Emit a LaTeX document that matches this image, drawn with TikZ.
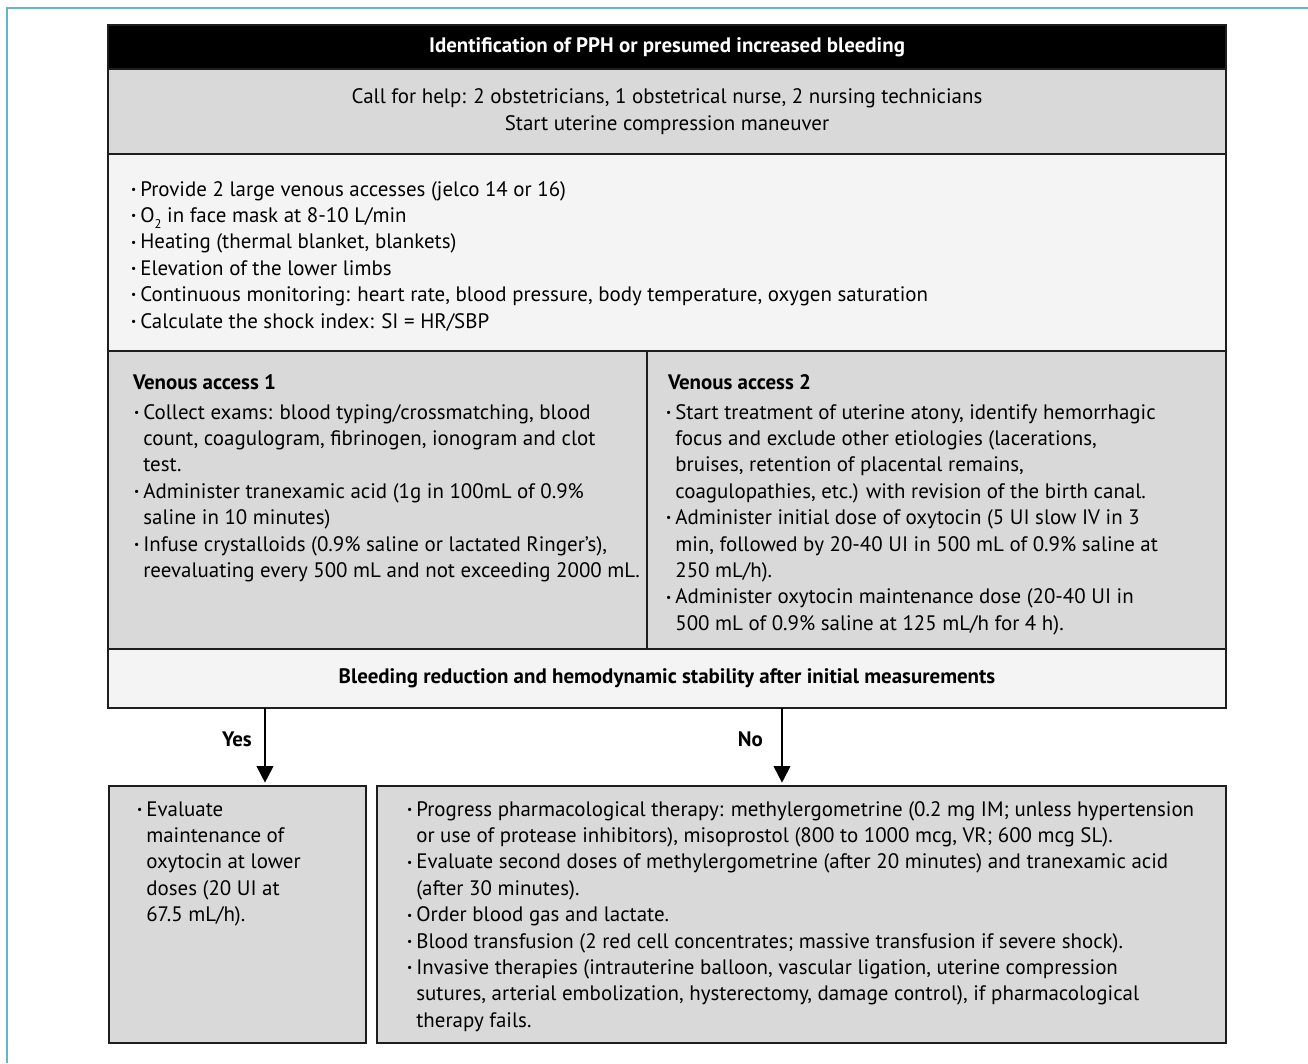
\documentclass[tikz,border=0pt]{standalone}
\usepackage{fontspec}
\setmainfont{PT Sans}
\usetikzlibrary{arrows.meta,fit}
\definecolor{frameblue}{HTML}{66B5CA}
\definecolor{boxgray}{HTML}{D9D9D9}
\definecolor{boxlight}{HTML}{F4F4F4}
\definecolor{edgecol}{HTML}{1E1E1E}
\newcommand\fs{\fontsize{15.7}{19.8}\selectfont}
\newlength\bulw \setlength\bulw{7pt}
\newcommand\bu{\makebox[\bulw][l]{\raisebox{0.25ex}{\scalebox{0.55}{•}}}}
\newcommand\ind{\hspace*{\bulw}}
\tikzset{
  panel/.style={draw=edgecol, line width=1.4pt, inner sep=0pt, outer sep=0pt},
  txt/.style={inner sep=0pt, outer sep=0pt, align=left, anchor=base west, font=\fs},
  hd/.style={inner sep=0pt, outer sep=0pt, anchor=base west, font=\fs\bfseries},
  arr/.style={line width=1.5pt, draw=black, -{Triangle[length=12.5pt,width=12.5pt]}, shorten >=2.5pt}
}
\begin{document}
\begin{tikzpicture}[x=0.75pt, y=-0.75pt, font=\fs]
\useasboundingbox (0,0) rectangle (1308,1063);
\fill[white] (0,0) rectangle (1308,1063);
% outer frame (only left and top visible)
\draw[frameblue, line width=1.5pt] (7,1063) -- (7,8.5) -- (1308,8.5);

% panels
\node[panel, fill=black, fit={(108,25) (1226,69)}] (hdr) {};
\node[panel, fill=boxgray, fit={(108,69) (1226,154)}] (call) {};
\node[panel, fill=boxlight, fit={(108,154) (1226,351)}] (list) {};
\node[panel, fill=boxgray, fit={(108,351) (647,649)}] (va1) {};
\node[panel, fill=boxgray, fit={(647,351) (1226,649)}] (va2) {};
\node[panel, fill=boxlight, fit={(108,649) (1226,708)}] (bleed) {};
\node[panel, fill=boxgray, fit={(109,786) (366,1043)}] (lbox) {};
\node[panel, fill=boxgray, fit={(377,786) (1226,1043)}] (rbox) {};

% texts
\node[inner sep=0pt, text=white, font=\fs\bfseries] (hdrtext) at (hdr.center) {Identification of PPH or presumed increased bleeding};
\node[inner sep=0pt, align=center, font=\fs] (calltext) at (call.center) {Call for help: 2 obstetricians, 1 obstetrical nurse, 2 nursing technicians\\Start uterine compression maneuver};

\node[txt] (listtext) at (131,328) {\bu Provide 2 large venous accesses (jelco 14 or 16)\\
\bu O\raisebox{-0.55ex}{\fontsize{9.5}{9.5}\selectfont 2} in face mask at 8-10 L/min\\
\bu Heating (thermal blanket, blankets)\\
\bu Elevation of the lower limbs\\
\bu Continuous monitoring: heart rate, blood pressure, body temperature, oxygen saturation\\
\bu Calculate the shock index: SI = HR/SBP};

\node[hd] (va1head) at (133,389) {Venous access 1};
\node[txt] (va1text) at (134,577.4) {\bu Collect exams: blood typing/crossmatching, blood\\
\ind count, coagulogram, fibrinogen, ionogram and clot\\
\ind test.\\
\bu Administer tranexamic acid (1g in 100mL of 0.9\%\\
\ind saline in 10 minutes)\\
\bu Infuse crystalloids (0.9\% saline or lactated Ringer’s),\\
\ind reevaluating every 500 mL and not exceeding 2000 mL.};

\node[hd] (va2head) at (668,389) {Venous access 2};
\node[txt] (va2text) at (666,630.2) {\bu Start treatment of uterine atony, identify hemorrhagic\\
\ind focus and exclude other etiologies (lacerations,\\
\ind bruises, retention of placental remains,\\
\ind coagulopathies, etc.) with revision of the birth canal.\\
\bu Administer initial dose of oxytocin (5 UI slow IV in 3\\
\ind min, followed by 20-40 UI in 500 mL of 0.9\% saline at\\
\ind 250 mL/h).\\
\bu Administer oxytocin maintenance dose (20-40 UI in\\
\ind 500 mL of 0.9\% saline at 125 mL/h for 4 h).};

\node[inner sep=0pt, font=\fs\bfseries] (bleedtext) at (bleed.center) {Bleeding reduction and hemodynamic stability after initial measurements};

% connectors
\coordinate (yestop) at (265,708);
\coordinate (notop) at (782,708);
\draw[arr] (yestop) -- (yestop |- lbox.north);
\draw[arr] (notop) -- (notop |- rbox.north);
\node[inner sep=0pt, font=\fs\bfseries, anchor=east] (yes) at (252,739) {Yes};
\node[inner sep=0pt, font=\fs\bfseries, anchor=east] (no) at (763,739) {No};

\node[txt] (ltext) at (137,921.6) {\bu Evaluate\\
\ind maintenance of\\
\ind oxytocin at lower\\
\ind doses (20 UI at\\
\ind 67.5 mL/h).};

\node[txt] (rtext) at (407,1027.2) {\bu Progress pharmacological therapy: methylergometrine (0.2 mg IM; unless hypertension\\
\ind or use of protease inhibitors), misoprostol (800 to 1000 mcg, VR; 600 mcg SL).\\
\bu Evaluate second doses of methylergometrine (after 20 minutes) and tranexamic acid\\
\ind (after 30 minutes).\\
\bu Order blood gas and lactate.\\
\bu Blood transfusion (2 red cell concentrates; massive transfusion if severe shock).\\
\bu Invasive therapies (intrauterine balloon, vascular ligation, uterine compression\\
\ind sutures, arterial embolization, hysterectomy, damage control), if pharmacological\\
\ind therapy fails.};
\end{tikzpicture}
\end{document}
